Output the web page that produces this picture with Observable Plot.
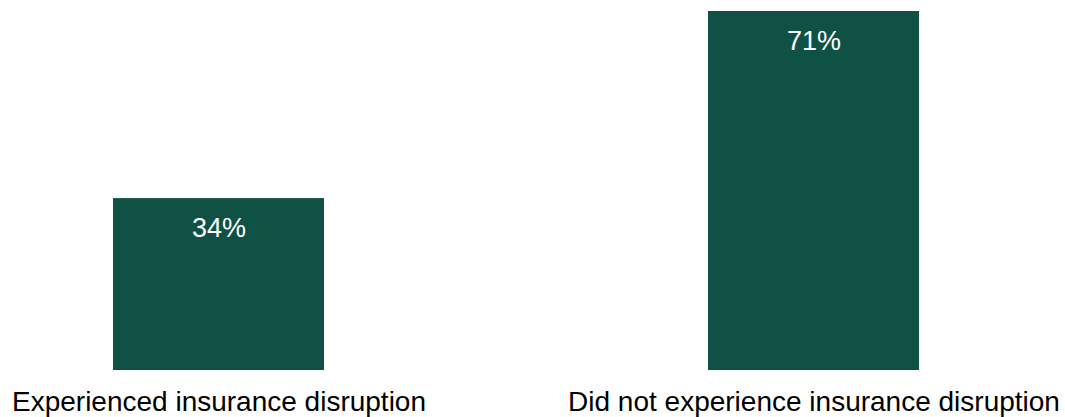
<!DOCTYPE html>
<html>
<head>
<meta charset="utf-8">
<script src="https://cdn.jsdelivr.net/npm/d3@7"></script>
<script src="https://cdn.jsdelivr.net/npm/@observablehq/plot@0.6"></script>
<style>
  html, body { margin: 0; padding: 0; background: #fff; }
</style>
</head>
<body>
<div id="chart"></div>
<script>
const categories = ["Experienced insurance disruption", "Did not experience insurance disruption"];
const values = [34, 71];
const valueLabels = ["34%", "71%"];

const data = categories.map((c, i) => ({category: c, value: values[i], label: valueLabels[i]}));

const chart = Plot.plot({
  width: 1065,
  height: 417,
  marginTop: 11,
  marginBottom: 47,
  marginLeft: 0,
  marginRight: 0,
  style: {fontFamily: "'Liberation Sans', Arial, sans-serif", fontSize: "28px", color: "#000", background: "#fff"},
  x: {domain: categories, range: [113, 919], paddingInner: 0.646, paddingOuter: 0, label: null},
  y: {domain: [0, 71], axis: null},
  marks: [
    Plot.barY(data, {x: "category", y: "value", fill: "#0f5245"}),
    Plot.text(data, {x: "category", y: "value", text: "label", fill: "#fff", fontSize: 27, lineAnchor: "bottom", dy: 38}),
    Plot.axisX({tickSize: 0, tickPadding: 21, fontSize: 28, label: null, fill: "#000"})
  ]
});
document.getElementById("chart").append(chart);
</script>
</body>
</html>
